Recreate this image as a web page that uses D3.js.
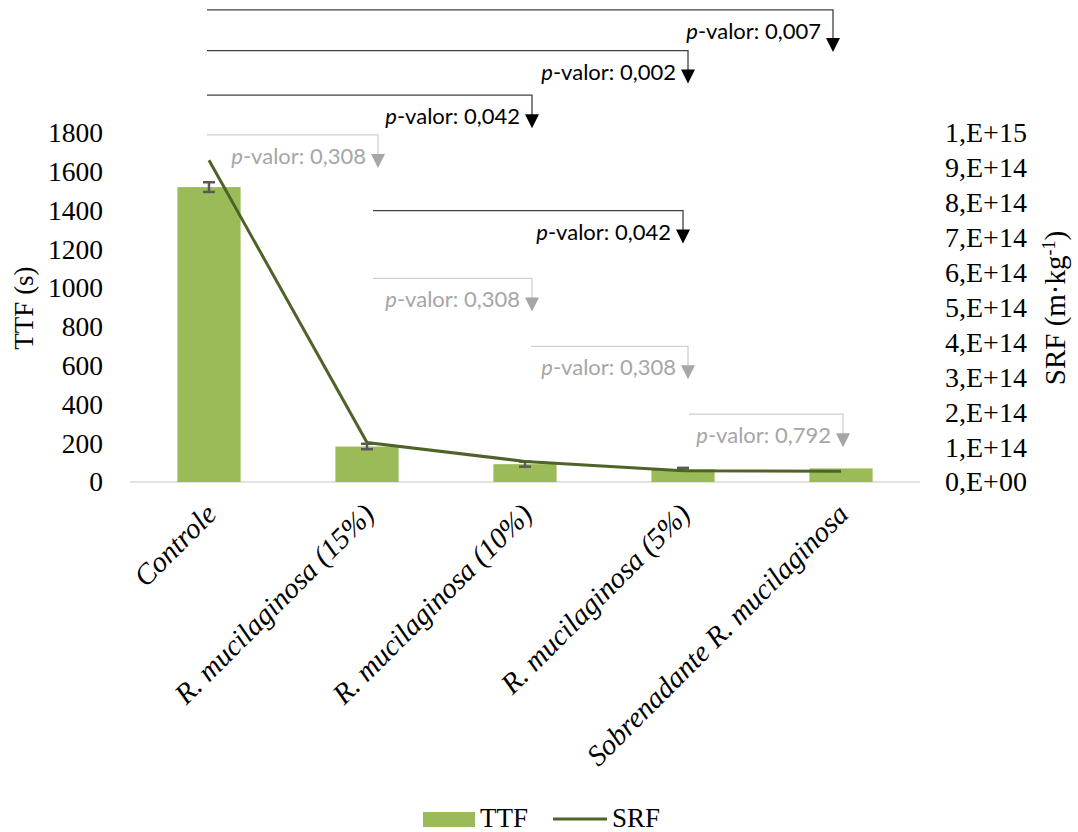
<!DOCTYPE html>
<html>
<head>
<meta charset="utf-8">
<script src="https://cdn.jsdelivr.net/npm/d3@7"></script>
<style>
  html, body { margin: 0; padding: 0; background: #fff; }
  svg { display: block; }
</style>
</head>
<body>
<svg id="chart" width="1078" height="832"></svg>
<script>
// Categories and series
const categories = [
  "Controle",
  "R. mucilaginosa (15%)",
  "R. mucilaginosa (10%)",
  "R. mucilaginosa (5%)",
  "Sobrenadante R. mucilaginosa"
];
const ttf = [1521, 183, 92, 66, 70];          // s
const ttfError = [25, 14, 13, 7, 0];          // s
const srf = [9.22e14, 1.13e14, 5.9e13, 3.2e13, 3.1e13]; // m·kg-1

// Axis ticks
const ttfTicks = [0, 200, 400, 600, 800, 1000, 1200, 1400, 1600, 1800];
const srfTicks = [0, 1e14, 2e14, 3e14, 4e14, 5e14, 6e14, 7e14, 8e14, 9e14, 1e15];
const srfTickLabels = ["0,E+00", "1,E+14", "2,E+14", "3,E+14", "4,E+14", "5,E+14",
                       "6,E+14", "7,E+14", "8,E+14", "9,E+14", "1,E+15"];

// Pairwise comparisons (Kruskal-Wallis post hoc)
const compFrom = [0, 0, 0, 0, 1, 1, 2, 3];
const compTo   = [4, 3, 2, 1, 3, 2, 3, 4];
const compP    = ["0,007", "0,002", "0,042", "0,308", "0,042", "0,308", "0,308", "0,792"];
const compSig  = [true, true, true, false, true, false, false, false];

const svg = d3.select("#chart");
const plotLeft = 130, plotRight = 920, plotTop = 133, plotBottom = 482;

const x = d3.scaleBand().domain(categories).range([plotLeft, plotRight])
  .paddingInner(0.6).paddingOuter(0.3);
const cx = c => x(c) + x.bandwidth() / 2;
const yL = d3.scaleLinear().domain([0, 1800]).range([plotBottom, plotTop]);
const yR = d3.scaleLinear().domain([0, 1e15]).range([plotBottom, plotTop]);

const serif = "'Liberation Serif', 'Times New Roman', serif";
const sans = "Lato, 'Open Sans', sans-serif";

// Category baseline
svg.append("line")
  .attr("x1", plotLeft).attr("x2", plotRight)
  .attr("y1", plotBottom).attr("y2", plotBottom)
  .attr("stroke", "#d9d9d9").attr("stroke-width", 1.5);

// Bars
svg.append("g").selectAll("rect").data(categories).join("rect")
  .attr("x", d => x(d))
  .attr("width", x.bandwidth())
  .attr("y", (d, i) => yL(ttf[i]))
  .attr("height", (d, i) => yL(0) - yL(ttf[i]))
  .attr("fill", "#9bbb59");

// Error bars
const eb = svg.append("g").attr("stroke", "#595959").attr("stroke-width", 2.5);
categories.forEach((c, i) => {
  if (!ttfError[i]) return;
  const x0 = cx(c), hi = yL(ttf[i] + ttfError[i]), lo = yL(ttf[i] - ttfError[i]);
  eb.append("line").attr("x1", x0).attr("x2", x0).attr("y1", hi).attr("y2", lo);
  eb.append("line").attr("x1", x0 - 6).attr("x2", x0 + 6).attr("y1", hi).attr("y2", hi);
  eb.append("line").attr("x1", x0 - 6).attr("x2", x0 + 6).attr("y1", lo).attr("y2", lo);
});

// SRF line
svg.append("path")
  .datum(categories)
  .attr("fill", "none")
  .attr("stroke", "#4f6228")
  .attr("stroke-width", 3)
  .attr("d", d3.line().x(d => cx(d)).y((d, i) => yR(srf[i])));

// Left axis
const axL = svg.append("g").attr("transform", `translate(${plotLeft},0)`)
  .call(d3.axisLeft(yL).tickValues(ttfTicks).tickSize(0).tickPadding(27)
    .tickFormat(d3.format("d")));
axL.select(".domain").remove();
axL.selectAll("text").attr("font-family", serif).attr("font-size", 27.5).attr("fill", "#000");

// Right axis
const axR = svg.append("g").attr("transform", `translate(${plotRight},0)`)
  .call(d3.axisRight(yR).tickValues(srfTicks).tickSize(0).tickPadding(25)
    .tickFormat((d, i) => srfTickLabels[i]));
axR.select(".domain").remove();
axR.selectAll("text").attr("font-family", serif).attr("font-size", 28).attr("fill", "#000");

// Category axis
const axB = svg.append("g").attr("transform", `translate(0,${plotBottom})`)
  .call(d3.axisBottom(x).tickSize(0));
axB.select(".domain").remove();
axB.selectAll("text")
  .attr("font-family", serif).attr("font-size", 29).attr("font-style", "italic")
  .attr("fill", "#000")
  .attr("x", 0).attr("y", 0).attr("dy", null)
  .attr("text-anchor", "end")
  .attr("transform", "translate(9,34) rotate(-45)");

// Axis titles
svg.append("text")
  .attr("transform", "translate(33,308) rotate(-90)")
  .attr("text-anchor", "middle")
  .attr("font-family", serif).attr("font-size", 27)
  .text("TTF (s)");

const t2 = svg.append("text")
  .attr("transform", "translate(1065,308) rotate(-90)")
  .attr("text-anchor", "middle")
  .attr("font-family", serif).attr("font-size", 29);
t2.append("tspan").text("SRF (m·kg");
t2.append("tspan").attr("font-size", 18).attr("baseline-shift", "super").text("-1");
t2.append("tspan").text(")");

// Comparison brackets: level in TTF units, arrow offset from the target category centre
const bracketLevel = [2435, 2225, 1995, 1790, 1400, 1050, 700, 350];
const arrowOffset = [-8, 5, 7, 11, 0, 7, 5, 2];
const brk = svg.append("g");
compP.forEach((p, i) => {
  const sig = compSig[i];
  const lineCol = sig ? "#404040" : "#d0d0d0";
  const headCol = sig ? "#000" : "#a6a6a6";
  const x0 = cx(categories[compFrom[i]]) + (compFrom[i] === 0 ? -2 : 6);
  const x1 = cx(categories[compTo[i]]) + arrowOffset[i];
  const yb = yL(bracketLevel[i]);
  const drop = i === 0 ? 28 : 19;
  brk.append("path")
    .attr("d", `M${x0},${yb}H${x1}V${yb + drop + 1}`)
    .attr("fill", "none").attr("stroke", lineCol).attr("stroke-width", 1.3);
  brk.append("path")
    .attr("d", `M${x1 - 7},${yb + drop}L${x1 + 7},${yb + drop}L${x1},${yb + drop + 14}Z`)
    .attr("fill", headCol);
  const t = brk.append("text")
    .attr("x", x1 - 12).attr("y", yb + 29)
    .attr("text-anchor", "end")
    .attr("font-family", sans).attr("font-size", 22)
    .attr("fill", headCol);
  t.append("tspan").attr("font-style", "italic").text("p");
  t.append("tspan").text("-valor: " + p);
});

// Legend
const lg = svg.append("g");
lg.append("rect").attr("x", 423).attr("y", 812).attr("width", 52).attr("height", 15).attr("fill", "#9bbb59");
lg.append("text").attr("x", 480).attr("y", 827).attr("font-family", serif).attr("font-size", 27).text("TTF");
lg.append("line").attr("x1", 553).attr("x2", 607).attr("y1", 819).attr("y2", 819)
  .attr("stroke", "#4f6228").attr("stroke-width", 3);
lg.append("text").attr("x", 612).attr("y", 827).attr("font-family", serif).attr("font-size", 27).text("SRF");
</script>
</body>
</html>
